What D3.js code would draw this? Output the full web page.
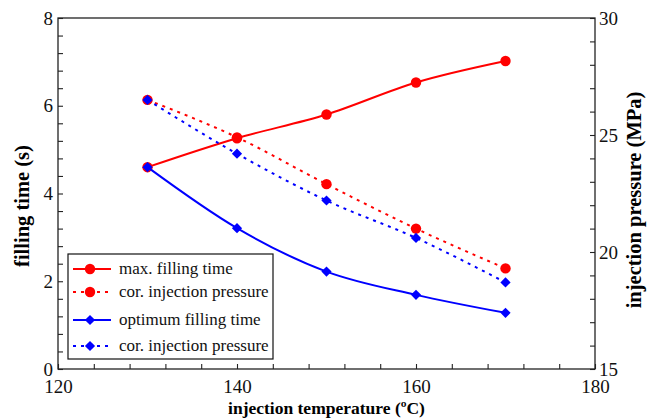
<!DOCTYPE html>
<html>
<head>
<script src="https://d3js.org/d3.v7.min.js"></script>
</head>
<body style="margin:0">
<script>
// data
var temps = [130, 140, 150, 160, 170];
var maxFilling = [4.60, 5.26, 5.80, 6.53, 7.02];
var maxPressure = [26.5, 24.9, 22.9, 21.0, 19.3];
var optFilling = [4.60, 3.21, 2.22, 1.69, 1.28];
var optPressure = [26.5, 24.2, 22.2, 20.6, 18.7];

var xTicks = [120, 140, 160, 180];
var yLeftTicks = [0, 2, 4, 6, 8];
var yRightTicks = [15, 20, 25, 30];

var legendLabels = ["max. filling time", "cor. injection pressure", "optimum filling time", "cor. injection pressure"];

var W = 653, H = 418;
var margin = {top: 18, right: 58, bottom: 49, left: 58};
var width = W - margin.left - margin.right,
    height = H - margin.top - margin.bottom;
var serif = "'Liberation Serif'";

var svg = d3.select("body").append("svg")
  .attr("width", W).attr("height", H);
var g = svg.append("g")
  .attr("transform", "translate(" + margin.left + "," + margin.top + ")");

var x = d3.scaleLinear().domain([120, 180]).range([0, width]);
var yL = d3.scaleLinear().domain([0, 8]).range([height, 0]);
var yR = d3.scaleLinear().domain([15, 30]).range([height, 0]);

// frame
g.append("rect").attr("width", width).attr("height", height)
  .attr("fill", "none").attr("stroke", "#222").attr("stroke-width", 1.3);

function styleAxis(sel) {
  sel.attr("font-family", null);
  sel.select(".domain").remove();
  sel.selectAll("line").attr("stroke", "#222").attr("stroke-width", 1.1);
  sel.selectAll("text").style("font-family", serif).style("font-size", "19px").attr("fill", "#111");
}

// bottom axis, ticks inside
g.append("g").attr("transform", "translate(0," + height + ")")
  .call(d3.axisBottom(x).tickValues(d3.range(120, 181, 4)).tickSize(-5).tickFormat(""))
  .call(styleAxis);
g.append("g").attr("transform", "translate(0," + height + ")")
  .call(d3.axisBottom(x).tickValues(xTicks).tickSize(0).tickPadding(11).tickFormat(d3.format("d")))
  .call(styleAxis);

// left axis
g.append("g")
  .call(d3.axisLeft(yL).tickValues(d3.range(0, 8.01, 0.4)).tickSize(-5).tickFormat(""))
  .call(styleAxis);
g.append("g")
  .call(d3.axisLeft(yL).tickValues(yLeftTicks).tickSize(0).tickPadding(5).tickFormat(d3.format("d")))
  .call(styleAxis);

// right axis
g.append("g").attr("transform", "translate(" + width + ",0)")
  .call(d3.axisRight(yR).tickValues(d3.range(15, 30.01, 1)).tickSize(-5).tickFormat(""))
  .call(styleAxis);
g.append("g").attr("transform", "translate(" + width + ",0)")
  .call(d3.axisRight(yR).tickValues(yRightTicks).tickSize(0).tickPadding(4).tickFormat(d3.format("d")))
  .call(styleAxis);

// axis titles
svg.append("text").attr("x", margin.left + width / 2).attr("y", 414)
  .attr("text-anchor", "middle").style("font-size", "17.5px").attr("font-weight", "bold")
  .style("font-family", serif)
  .text("injection temperature (\u00baC)");
svg.append("text").attr("transform", "translate(29,206) rotate(-90)")
  .attr("text-anchor", "middle").style("font-size", "20.5px").attr("font-weight", "bold")
  .style("font-family", serif)
  .text("filling time (s)");
svg.append("text").attr("transform", "translate(641,200) rotate(-90)")
  .attr("text-anchor", "middle").style("font-size", "20.5px").attr("font-weight", "bold")
  .style("font-family", serif)
  .text("injection pressure (MPa)");

var series = [
  {vals: maxFilling, y: yL, color: "#ff0000", dash: null, shape: "circle"},
  {vals: maxPressure, y: yR, color: "#ff0000", dash: "3,5", shape: "circle"},
  {vals: optFilling, y: yL, color: "#0000ff", dash: null, shape: "diamond"},
  {vals: optPressure, y: yR, color: "#0000ff", dash: "3,5", shape: "diamond"}
];

function marker(sel, s) {
  if (s.shape === "circle") {
    sel.append("circle").attr("r", 5.2).attr("fill", s.color);
  } else {
    sel.append("path")
      .attr("d", d3.symbol().type(d3.symbolSquare).size(52))
      .attr("transform", "rotate(45)")
      .attr("fill", s.color);
  }
}

series.forEach(function(s) {
  var line = d3.line()
    .x(function(d, i) { return x(temps[i]); })
    .y(function(d) { return s.y(d); })
    .curve(d3.curveMonotoneX);
  g.append("path").datum(s.vals)
    .attr("d", line).attr("fill", "none")
    .attr("stroke", s.color).attr("stroke-width", 2)
    .attr("stroke-dasharray", s.dash);
  g.selectAll(null).data(s.vals).enter().append("g")
    .attr("transform", function(d, i) { return "translate(" + x(temps[i]) + "," + s.y(d) + ")"; })
    .each(function() { marker(d3.select(this), s); });
});

// legend
var lg = svg.append("g").attr("transform", "translate(68,254)");
lg.append("rect").attr("width", 205).attr("height", 105)
  .attr("fill", "#fff").attr("stroke", "#111").attr("stroke-width", 1.2);
var rowY = [15, 38, 66, 92];
series.forEach(function(s, i) {
  var r = lg.append("g").attr("transform", "translate(0," + rowY[i] + ")");
  r.append("line").attr("x1", 5).attr("x2", 43).attr("y1", 0).attr("y2", 0)
    .attr("stroke", s.color).attr("stroke-width", 2).attr("stroke-dasharray", s.dash);
  marker(r.append("g").attr("transform", "translate(22,0)"), s);
  r.append("text").attr("x", 51).attr("y", 5).style("font-size", "17px").attr("fill", "#111")
    .style("font-family", serif)
    .text(legendLabels[i]);
});
</script>
</body>
</html>
